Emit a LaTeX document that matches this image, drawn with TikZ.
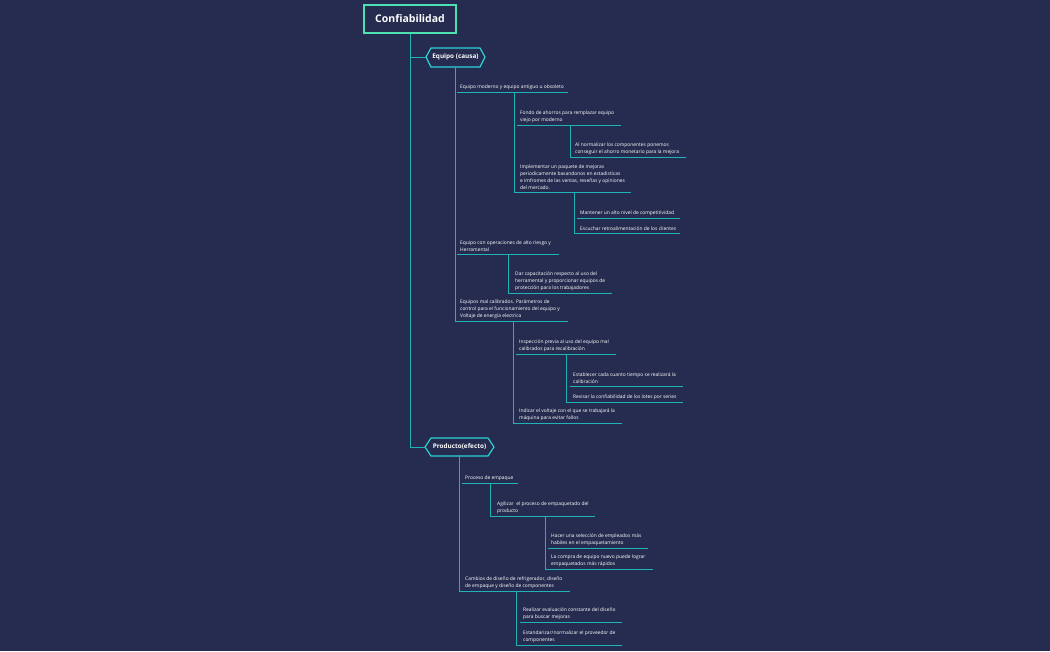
\documentclass[tikz,border=0pt]{standalone}
\usepackage{fontspec}
\setmainfont{Open Sans}
\begin{document}
\begin{tikzpicture}[x=1pt,y=-1pt,
  txt/.style={inner sep=1pt,font=\fontsize{4.9}{6.8}\selectfont,text=white,align=left},
  ul/.style={draw=teal2,line width=0.9pt},
  hex/.style={draw=cyan2,line width=1.2pt,fill=bg}]
\definecolor{bg}{HTML}{252C4F}
\definecolor{teal2}{HTML}{1FB3B8}
\definecolor{cyan2}{HTML}{2BD3D6}
\definecolor{mint}{HTML}{4DE0B0}
\fill[bg] (0,0) rectangle (1050,651);
\useasboundingbox (0,0) rectangle (1050,651);
\newcommand\mitem[5]{%
  \coordinate (#1s) at (#2,#4); \coordinate (#1e) at (#3,#4);
  \node[txt,anchor=south west] (#1) at (#2+2,#4-1.5) {#5};
  \draw[ul] (#1s)--(#1e);}
% title
\node[draw=mint,line width=1.6pt,minimum width=92pt,minimum height=28pt,text=white,font=\bfseries\fontsize{10.5}{12}\selectfont] (T) at (410,19) {Confiabilidad};
% hexagons
\draw[hex] (426,57)--(431,48)--(480,48)--(485,57)--(480,67)--(431,67)--cycle;
\node[text=white,font=\bfseries\fontsize{6.4}{7}\selectfont] (E) at (455.5,57) {Equipo (causa)};
\draw[hex] (425,447)--(431,438)--(488,438)--(494,447)--(488,456)--(431,456)--cycle;
\node[text=white,font=\bfseries\fontsize{6.4}{7}\selectfont] (P) at (459.5,447) {Producto(efecto)};
\coordinate (Es) at (426,57); \coordinate (Ps) at (425,447);
\draw[ul] (T.south) |- (Es);
\draw[ul] (T.south) |- (Ps);
% Equipo branch
\mitem{A}{457}{568}{92}{Equipo moderno y equipo antiguo u obsoleto}
\mitem{B}{457}{559}{254}{Equipo con operaciones de alto riesgo y\\Herramental}
\mitem{C}{457}{568}{321}{Equipos mal calibrados. Parámetros de\\control para el funcionamiento del equipo y\\Voltaje de energía electrica}
\coordinate (Eb) at (455,67);
\draw[ul] (Eb) |- (Cs);
\mitem{A1}{517}{621}{125}{Fondo de ahorros para remplazar equipo\\viejo por moderno}
\mitem{A2}{517}{631}{192}{Implementar un paquete de mejoras\\periodicamente basandonos en estadisticas\\e imfromes de las ventas, reseñas y opiniones\\del mercado.}
\coordinate (Ab) at (514,92);
\draw[ul] (Ab) |- (A2s);
\mitem{A1a}{572}{686}{157}{Al normalizar los componentes ponemos\\conseguir el ahorro monetario para la mejora}
\coordinate (A1b) at (570,125);
\draw[ul] (A1b) |- (A1as);
\mitem{A2a}{577}{680}{218}{Mantener un alto nivel de competitividad}
\mitem{A2b}{577}{680}{233}{Escuchar retroalimentación de los clientes}
\coordinate (A2bb) at (574,192);
\draw[ul] (A2bb) |- (A2bs);
\mitem{B1}{512}{612}{293}{Dar capacitación respecto al uso del\\herramental y proporcionar equipos de\\protección para los trabajadores}
\coordinate (Bb) at (508,254);
\draw[ul] (Bb) |- (B1s);
\mitem{C1}{516}{616}{354}{Inspección previa al uso del equipo mal\\calibrados para recalibración}
\mitem{C2}{516}{622}{423}{Indicar el voltaje con el que se trabajará la\\máquina para evitar fallos}
\coordinate (Cb) at (513,321);
\draw[ul] (Cb) |- (C2s);
\mitem{C1a}{570}{683}{386}{Establecer cada cuanto tiempo se realizará la\\calibración}
\mitem{C1b}{570}{683}{402}{Revisar la confiabilidad de los lotes por series}
\coordinate (C1bb) at (566,354);
\draw[ul] (C1bb) |- (C1bs);
% Producto branch
\mitem{P1}{462}{518}{483}{Proceso de empaque}
\mitem{P2}{462}{570}{591}{Cambios de diseño de refrigerador, diseño\\de empaque y diseño de componentes}
\coordinate (Pb) at (459,456);
\draw[ul] (Pb) |- (P2s);
\mitem{P1a}{494}{595}{516}{Agilizar\ \ el proceso de empaquetado del\\producto}
\coordinate (P1b) at (490,483);
\draw[ul] (P1b) |- (P1as);
\mitem{P1a1}{548}{648}{548}{Hacer una selección de empleados más\\habiles en el empaquetamiento}
\mitem{P1a2}{548}{653}{569}{La compra de equipo nuevo puede lograr\\empaquetados más rápidos}
\coordinate (P1ab) at (545,516);
\draw[ul] (P1ab) |- (P1a2s);
\mitem{P2a}{520}{622}{622}{Realizar evaluación constante del diseño\\para buscar mejoras}
\mitem{P2b}{520}{622}{645}{Estandarizar/normalizar el proveedor de\\componentes}
\coordinate (P2bb) at (516,591);
\draw[ul] (P2bb) |- (P2bs);
\end{tikzpicture}
\end{document}
